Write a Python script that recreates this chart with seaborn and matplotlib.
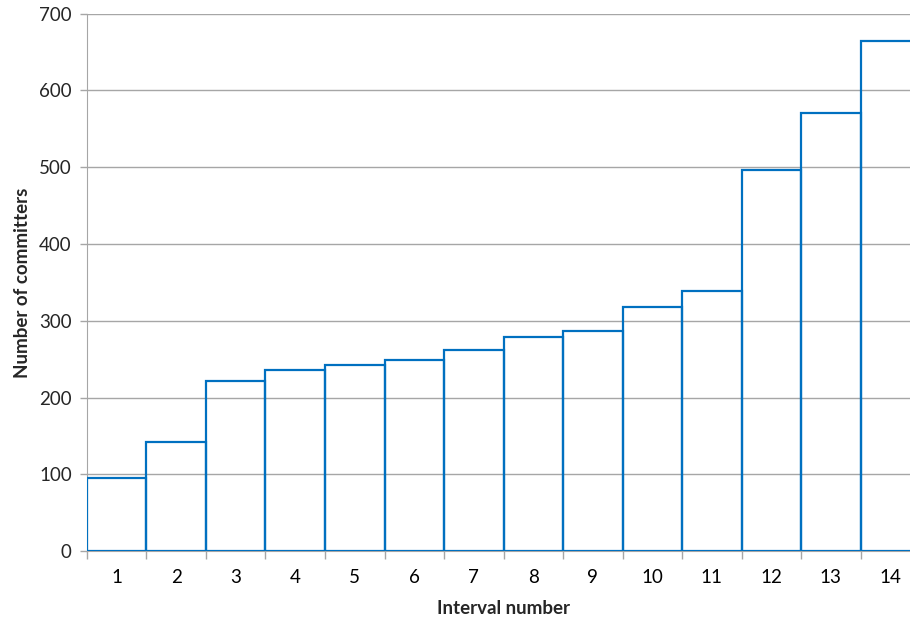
import matplotlib
matplotlib.use("Agg")
from matplotlib import pyplot as plt
import seaborn as sns
import pandas as pd
import numpy as np

# Data
intervals = [str(i) for i in range(1, 15)]
committers = [95, 142, 221, 236, 243, 249, 262, 279, 287, 318, 339, 497, 570, 664]

df = pd.DataFrame({'interval': intervals, 'committers': committers})

sns.set_style('white')
plt.rcParams['font.family'] = ['Lato', 'DejaVu Sans']

fig = plt.figure(figsize=(9.1, 6.22), dpi=100)
# last bar runs past the figure edge, as in the original
ax = fig.add_axes([0.0956, 0.114, 0.9154, 0.864])

sns.barplot(data=df, x='interval', y='committers', order=intervals,
            fill=False, color='#0070C0', width=1.0, linewidth=1.6,
            errorbar=None, ax=ax)
for p in ax.patches:
    p.set_edgecolor('#0070C0')
    p.set_zorder(3)

ax.set_ylim(0, 700)
ax.set_xlim(-0.5, 13.5)
ax.set_yticks(np.arange(0, 701, 100))
ax.yaxis.grid(True, color='#A6A6A6', linewidth=1)
ax.set_axisbelow(True)

# tick marks between categories
ax.set_xticks(np.arange(-0.5, 14, 1), minor=True)
ax.tick_params(axis='x', which='major', length=0, pad=13, labelsize=13.5, colors='black')
ax.tick_params(axis='x', which='minor', length=6, width=1, color='#A6A6A6', direction='out', bottom=True)
ax.tick_params(axis='y', length=5, width=1, color='#A6A6A6', labelsize=13.5, pad=6, left=True)

for s in ['top', 'right']:
    ax.spines[s].set_visible(False)
ax.spines['left'].set_color('#A6A6A6')
ax.spines['bottom'].set_color('#A6A6A6')

ax.set_xlabel('Interval number', fontsize=13.5, fontweight='bold', labelpad=10)
ax.set_ylabel('Number of committers', fontsize=13.5, fontweight='bold', labelpad=6)

fig.savefig('out.png', dpi=100)
